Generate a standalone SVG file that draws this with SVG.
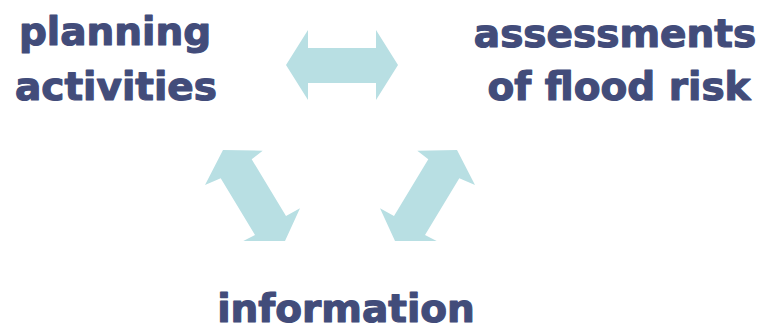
<svg xmlns="http://www.w3.org/2000/svg" width="764" height="329" viewBox="0 0 764 329">
<style>
.lbl{font-family:"DejaVu Sans",Verdana,sans-serif;font-weight:bold;font-size:39px;fill:#424C7A;stroke:#424C7A;stroke-width:1.2;stroke-linejoin:round;text-anchor:middle}
.arr{fill:#B8DFE3}
</style>
<rect width="764" height="329" fill="#ffffff"/>
<g id="connectors">
<polygon class="arr" points="286,65 308,30 308,48 376,48 376,30 398,65 376,100 376,83 308,83 308,100"/>
<polygon class="arr" points="223,150 262.7,150.7 251.7,159.3 286,216 300,208.3 285,241 243.3,241 255,235 220.7,178.3 205,185"/>
<polygon class="arr" points="457,150 417.3,150.7 428.3,159.3 394,216 380,208.3 395,241 436.7,241 425,235 459.3,178.3 475,185"/>
</g>
<g id="planning">
<text class="lbl" x="115" y="45">planning</text>
<text class="lbl" x="116" y="100">activities</text>
</g>
<g id="assessments">
<text class="lbl" x="615" y="47">assessments</text>
<text class="lbl" x="619" y="100">of flood risk</text>
</g>
<g id="information">
<text class="lbl" x="346" y="322">information</text>
</g>
</svg>
